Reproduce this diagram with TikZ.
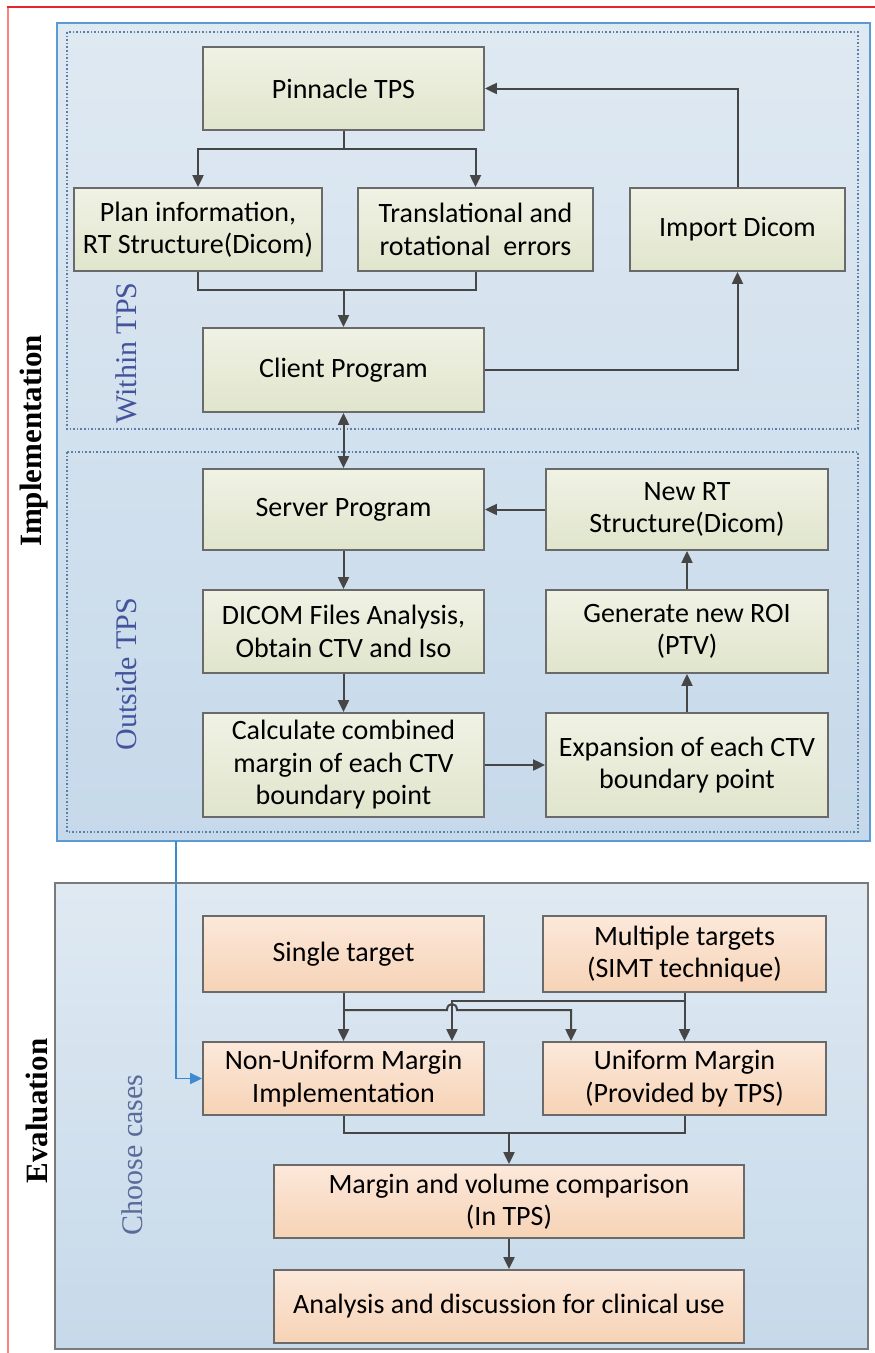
\documentclass[tikz,border=0pt]{standalone}
\usepackage{fontspec}
\setmainfont{Liberation Serif}
\newfontfamily\boxfont{Carlito}
\usetikzlibrary{arrows.meta}
\definecolor{greentop}{HTML}{F0F2E4}
\definecolor{greenbot}{HTML}{E0E5CC}
\definecolor{orangetop}{HTML}{FCE8DA}
\definecolor{orangebot}{HTML}{F6D3B6}
\definecolor{bluetop}{HTML}{DFE9F2}
\definecolor{bluebot}{HTML}{C6D9EA}
\definecolor{boxborder}{HTML}{6A6A6A}
\definecolor{linegray}{HTML}{464646}
\definecolor{implborder}{HTML}{5B9BD5}
\definecolor{evalborder}{HTML}{7A7A7A}
\definecolor{dotcol}{HTML}{5A7FA8}
\definecolor{sidelab}{HTML}{44549C}
\definecolor{sidelabb}{HTML}{5B6B99}
\definecolor{bluecon}{HTML}{3C8AD0}
\definecolor{redtop}{HTML}{E5262B}
\definecolor{redleft}{HTML}{FF8282}
\tikzset{
  gbox/.style={draw=boxborder, line width=1.8pt, top color=greentop, bottom color=greenbot,
    align=center, inner sep=0pt, font=\boxfont\fontsize{28}{32.5}\selectfont},
  obox/.style={draw=boxborder, line width=1.8pt, top color=orangetop, bottom color=orangebot,
    align=center, inner sep=0pt, font=\boxfont\fontsize{28}{32.5}\selectfont},
  conn/.style={draw=linegray, line width=2pt},
  arr/.style={conn, -{Triangle[length=12pt,width=11pt]}},
  arrtwo/.style={conn, {Triangle[length=12pt,width=11pt]}-{Triangle[length=12pt,width=11pt]}},
  bluearr/.style={draw=bluecon, line width=1.6pt, -{Triangle[length=12pt,width=11pt]}},
  sidebold/.style={rotate=90, font=\fontsize{31}{36}\selectfont\bfseries},
  sidename/.style={rotate=90, font=\fontsize{30}{34}\selectfont, text=sidelab},
  dotbox/.style={draw=dotcol, line width=1.6pt, dotted}
}
\begin{document}
\begin{tikzpicture}[x=1pt,y=-1pt]
\useasboundingbox (0,0) rectangle (875,1353);
\fill[white] (0,0) rectangle (875,1353);
% red frame
\draw[redleft, line width=2.2pt] (8,1353) -- (8,8);
\draw[redtop, line width=1.6pt] (7,7) -- (875,7);
% containers
\draw[draw=implborder, line width=1.8pt, top color=bluetop, bottom color=bluebot] (57,23) rectangle (870,841);
\draw[dotbox] (67,32) rectangle (858,429);
\draw[dotbox] (67,452) rectangle (858,832);
\draw[draw=evalborder, line width=1.8pt, top color=bluetop, bottom color=bluebot] (55,883) rectangle (868,1349);
% side labels
\node[sidebold] (limpl) at (34,441) {Implementation};
\node[sidebold] (leval) at (37,1111) {Evaluation};
\node[sidename] (lwithin) at (126,353) {Within TPS};
\node[sidename] (loutside) at (126,674) {Outside TPS};
\node[sidename, text=sidelabb] (lchoose) at (132,1155) {Choose cases};
% implementation nodes
\node[gbox, minimum width=281pt, minimum height=83pt] (pin) at (343.5,88.5) {Pinnacle TPS};
\node[gbox, minimum width=248pt, minimum height=83pt] (plan) at (198,229.5) {Plan information,\\RT Structure(Dicom)};
\node[gbox, minimum width=235pt, minimum height=83pt] (trans) at (475.5,229.5) {Translational and\\rotational\ \ errors};
\node[gbox, minimum width=215pt, minimum height=83pt] (imp) at (737.5,229.5) {Import Dicom};
\node[gbox, minimum width=281pt, minimum height=84pt] (client) at (343.5,370) {Client Program};
\node[gbox, minimum width=281pt, minimum height=81pt] (server) at (343.5,509.5) {Server Program};
\node[gbox, minimum width=282pt, minimum height=81pt] (newrt) at (687,509.5) {New RT\\Structure(Dicom)};
\node[gbox, minimum width=281pt, minimum height=83pt] (dicom) at (343.5,631.5) {DICOM Files Analysis,\\Obtain CTV and Iso};
\node[gbox, minimum width=282pt, minimum height=83pt] (gen) at (687,631.5) {Generate new ROI\\(PTV)};
\node[gbox, minimum width=281pt, minimum height=104pt] (calc) at (343.5,765) {Calculate combined\\margin of each CTV\\boundary point};
\node[gbox, minimum width=282pt, minimum height=104pt] (exp) at (687,765) {Expansion of each CTV\\boundary point};
% evaluation nodes
\node[obox, minimum width=281pt, minimum height=76pt] (single) at (343.5,954) {Single target};
\node[obox, minimum width=283pt, minimum height=76pt] (multi) at (684.5,954) {Multiple targets\\(SIMT technique)};
\node[obox, minimum width=281pt, minimum height=73pt] (nonu) at (343.5,1078.5) {Non-Uniform Margin\\Implementation};
\node[obox, minimum width=283pt, minimum height=73pt] (uni) at (684.5,1078.5) {Uniform Margin\\(Provided by TPS)};
\node[obox, minimum width=470pt, minimum height=73pt] (mvc) at (509,1201.5) {Margin and volume comparison\\(In TPS)};
\node[obox, minimum width=470pt, minimum height=73pt] (ana) at (509,1306.5) {Analysis and discussion for clinical use};
% implementation connectors
\coordinate (b1) at (343.5,149);
\draw[conn] (pin.south) -- (b1);
\draw[arr] (b1) -| (plan.north);
\draw[arr] (b1) -| (trans.north);
\coordinate (j1) at (343.5,290);
\draw[conn] (plan.south) |- (j1) -| (trans.south);
\draw[arr] (j1) -- (client.north);
\draw[arr] (imp.north) |- (pin.east);
\draw[arr] (client.east) -| (imp.south);
\draw[arrtwo] (client.south) -- (server.north);
\draw[arr] (newrt.west) -- (server.east);
\draw[arr] (server.south) -- (dicom.north);
\draw[arr] (dicom.south) -- (calc.north);
\draw[arr] (calc.east) -- (exp.west);
\draw[arr] (exp.north) -- (gen.south);
\draw[arr] (gen.north) -- (newrt.south);
% evaluation connectors
\coordinate (s1) at (343.5,1010);
\coordinate (s2) at (571,1010);
\coordinate (h1) at (447,1010);
\coordinate (h2) at (457,1010);
\draw[conn] (single.south) -- (s1);
\draw[arr] (s1) -- (s1 |- nonu.north);
\draw[arr] (s1) -- (h1) .. controls (447,1002) and (457,1002) .. (h2) -- (s2) -- (s2 |- uni.north);
\coordinate (m1) at (684.5,1001);
\coordinate (m2) at (452,1001);
\draw[arr] (multi.south) -- (uni.north);
\draw[arr] (m1) -- (m2) -- (m2 |- nonu.north);
\coordinate (j2) at (509,1133);
\draw[conn] (nonu.south) |- (j2) -| (uni.south);
\draw[arr] (j2) -- (mvc.north);
\draw[arr] (mvc.south) -- (ana.north);
% blue connector
\coordinate (bl) at (176,841);
\draw[bluearr] (bl) |- (nonu.west);
\end{tikzpicture}
\end{document}
